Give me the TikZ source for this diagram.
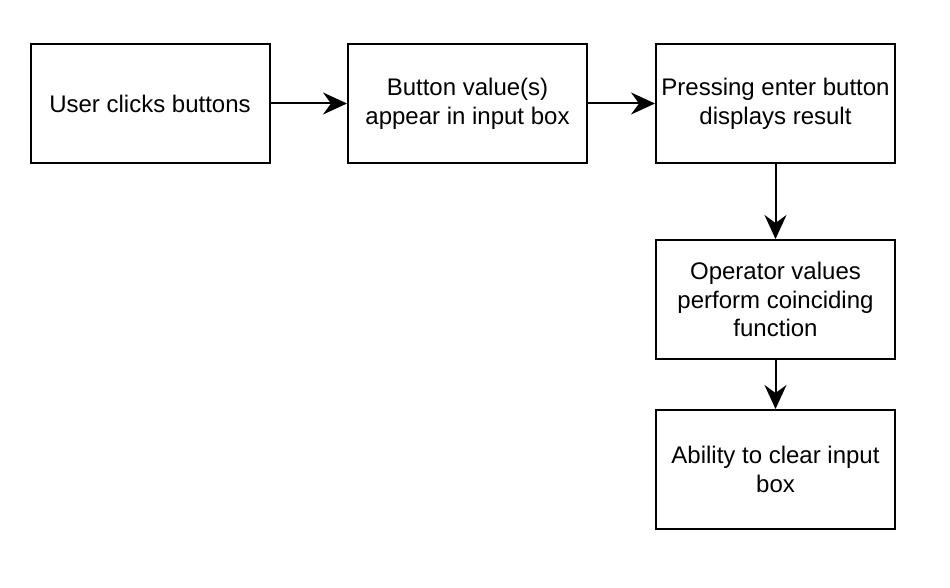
\documentclass[tikz,border=0pt]{standalone}
\usepackage{fontspec}
\setmainfont{Liberation Sans}
\usetikzlibrary{arrows.meta}
\begin{document}
\begin{tikzpicture}[x=1pt,y=-1pt,
  box/.style={draw,line width=2pt,minimum width=239pt,minimum height=119pt,inner sep=0pt,align=center,font=\fontsize{24}{28.8}\selectfont},
  conn/.style={line width=2pt,-{Stealth[length=24pt,width=22pt,inset=8pt]}}]
\useasboundingbox (0,0) rectangle (950,588);
\node[box] (a) at (150,103.5) {User clicks buttons};
\node[box] (b) at (467.5,103.5) {Button value(s)\\appear in input box};
\node[box] (c) at (775.5,103.5) {Pressing enter button\\displays result};
\node[box] (d) at (775.5,299.5) {Operator values\\perform coinciding\\function};
\node[box] (e) at (775.5,469.5) {Ability to clear input\\box};
\draw[conn] (a) -- (b);
\draw[conn] (b) -- (c);
\draw[conn] (c) -- (d);
\draw[conn] (d) -- (e);
\end{tikzpicture}
\end{document}
